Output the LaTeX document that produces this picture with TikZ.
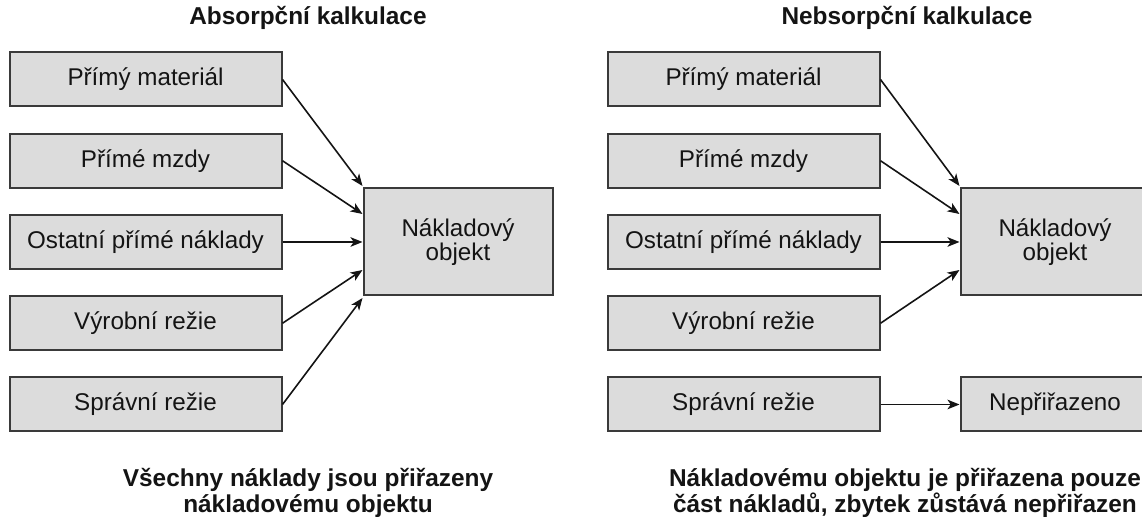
\documentclass[tikz,border=0pt]{standalone}
\usepackage{fontspec}
\setmainfont{Liberation Sans}
\usetikzlibrary{arrows.meta,calc}
\definecolor{boxfill}{HTML}{DCDCDC}
\definecolor{boxline}{HTML}{3A3A3A}
\definecolor{ink}{HTML}{141414}
\begin{document}
\begin{tikzpicture}[x=0.5pt,y=-0.5pt,
  costbox/.style={draw=boxline, fill=boxfill, line width=1pt, minimum width=136pt, minimum height=27pt, inner sep=0pt, font=\fontsize{12.1pt}{14pt}\selectfont, text=ink},
  objbox/.style={costbox, minimum width=94.5pt, minimum height=53.5pt, align=center, font=\fontsize{12.1pt}{12pt}\selectfont},
  headtext/.style={anchor=base, inner sep=0pt, font=\bfseries\fontsize{12.2pt}{14pt}\selectfont, text=ink},
  flow/.style={draw=ink, line width=0.8pt, -{Stealth[length=6pt,width=4.8pt,inset=1.6pt]}}]
\path[use as bounding box] (0,0) rectangle (1142,517);
\clip (0,0) rectangle (1142,517);

% titles
\node[headtext] (t1) at (308,25) {Absorpční kalkulace};
\node[headtext] (t2) at (907,25) {Nebsorpční kalkulace};

% left diagram
\node[costbox] (a1) at (145.5,79.5) {Přímý materiál};
\node[costbox] (a2) at (145.5,160.75) {Přímé mzdy};
\node[costbox] (a3) at (145.5,242) {Ostatní přímé náklady};
\node[costbox] (a4) at (145.5,323.25) {Výrobní režie};
\node[costbox] (a5) at (145.5,404.5) {Správní režie};
\node[objbox] (ac) at (458,242) {Nákladový\\objekt};

\draw[flow] (a1.east) -- ($(ac.west)+(0,-56)$);
\draw[flow] (a2.east) -- ($(ac.west)+(0,-28)$);
\draw[flow] (a3.east) -- (ac.west);
\draw[flow] (a4.east) -- ($(ac.west)+(0,28)$);
\draw[flow] (a5.east) -- ($(ac.west)+(0,56)$);

% right diagram
\node[costbox] (b1) at (743.5,79.5) {Přímý materiál};
\node[costbox] (b2) at (743.5,160.75) {Přímé mzdy};
\node[costbox] (b3) at (743.5,242) {Ostatní přímé náklady};
\node[costbox] (b4) at (743.5,323.25) {Výrobní režie};
\node[costbox] (b5) at (743.5,404.5) {Správní režie};
\node[objbox] (bc) at (1055,242) {Nákladový\\objekt};
\node[costbox, minimum width=94.5pt] (bn) at (1055,404.5) {Nepřiřazeno};

\draw[flow] (b1.east) -- ($(bc.west)+(0,-56)$);
\draw[flow] (b2.east) -- ($(bc.west)+(0,-28)$);
\draw[flow] (b3.east) -- (bc.west);
\draw[flow] (b4.east) -- ($(bc.west)+(0,28)$);
\draw[flow] (b5.east) -- (bn.west);

% bottom texts
\node[headtext] (l1) at (308,487) {Všechny náklady jsou přiřazeny};
\node[headtext] (l2) at (308,512.5) {nákladovému objektu};
\node[headtext] (r1) at (905,487) {Nákladovému objektu je přiřazena pouze};
\node[headtext] (r2) at (905,512.5) {část nákladů, zbytek zůstává nepřiřazen};
\end{tikzpicture}
\end{document}
